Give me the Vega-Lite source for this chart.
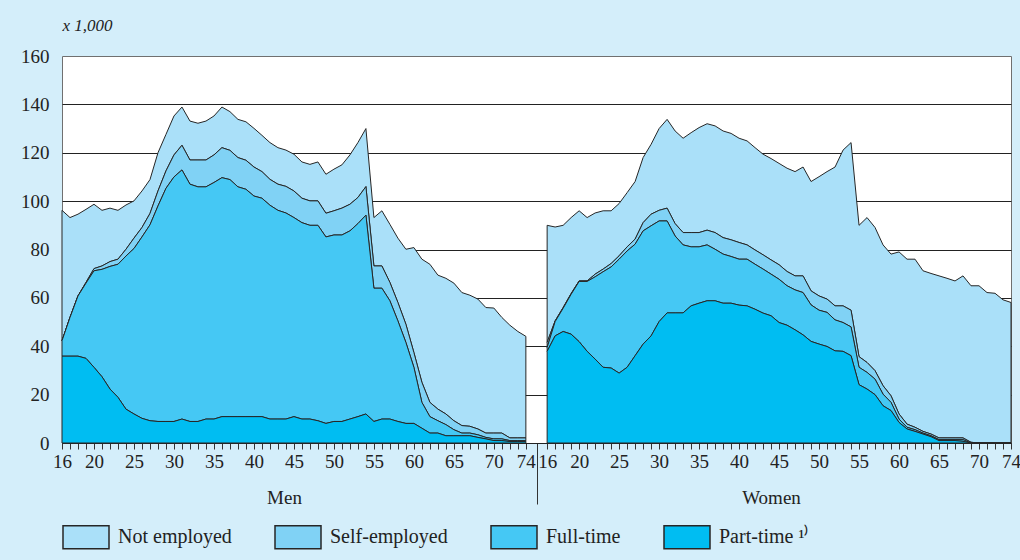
{
"$schema": "https://vega.github.io/schema/vega-lite/v6.json",
"width": 949, "height": 387,
"autosize": {"type": "none"},
"padding": {"left": 62, "top": 56, "right": 9, "bottom": 117},
"background": "#d4eefa",
"config": {
  "view": {"fill": "white", "stroke": "#707070", "strokeWidth": 1},
  "font": "Liberation Serif",
  "axis": {"labelFont": "Liberation Serif", "titleFont": "Liberation Serif", "labelColor": "#222", "titleColor": "#222"},
  "legend": {"labelFont": "Liberation Serif"}
},
"data": {"values": [
{"sex":"Men","age":16,"Part-time":35.9,"Full-time":6.4,"Self-employed":0,"Not employed":53.9},
{"sex":"Men","age":17,"Part-time":35.9,"Full-time":16.0,"Self-employed":0,"Not employed":41.3},
{"sex":"Men","age":18,"Part-time":35.9,"Full-time":24.9,"Self-employed":0,"Not employed":33.8},
{"sex":"Men","age":19,"Part-time":35.0,"Full-time":31.1,"Self-employed":0.3,"Not employed":30.2},
{"sex":"Men","age":20,"Part-time":31.3,"Full-time":39.9,"Self-employed":0.9,"Not employed":26.6},
{"sex":"Men","age":21,"Part-time":27.4,"Full-time":44.4,"Self-employed":1.4,"Not employed":23.0},
{"sex":"Men","age":22,"Part-time":22.3,"Full-time":50.7,"Self-employed":2.0,"Not employed":22.1},
{"sex":"Men","age":23,"Part-time":18.9,"Full-time":55.0,"Self-employed":2.1,"Not employed":20.2},
{"sex":"Men","age":24,"Part-time":14.0,"Full-time":63.3,"Self-employed":2.8,"Not employed":18.3},
{"sex":"Men","age":25,"Part-time":12.0,"Full-time":68.4,"Self-employed":4.3,"Not employed":15.4},
{"sex":"Men","age":26,"Part-time":10.2,"Full-time":75.0,"Self-employed":3.9,"Not employed":15.1},
{"sex":"Men","age":27,"Part-time":9.2,"Full-time":81.0,"Self-employed":4.7,"Not employed":14.0},
{"sex":"Men","age":28,"Part-time":8.9,"Full-time":89.1,"Self-employed":6.2,"Not employed":15.8},
{"sex":"Men","age":29,"Part-time":8.9,"Full-time":96.4,"Self-employed":7.2,"Not employed":15.1},
{"sex":"Men","age":30,"Part-time":8.9,"Full-time":101.1,"Self-employed":9.1,"Not employed":16.1},
{"sex":"Men","age":31,"Part-time":9.9,"Full-time":103.0,"Self-employed":10.2,"Not employed":15.8},
{"sex":"Men","age":32,"Part-time":8.9,"Full-time":98.1,"Self-employed":10.0,"Not employed":16.1},
{"sex":"Men","age":33,"Part-time":8.9,"Full-time":97.0,"Self-employed":11.1,"Not employed":15.2},
{"sex":"Men","age":34,"Part-time":9.9,"Full-time":96.0,"Self-employed":11.1,"Not employed":16.1},
{"sex":"Men","age":35,"Part-time":9.9,"Full-time":97.8,"Self-employed":11.4,"Not employed":16.1},
{"sex":"Men","age":36,"Part-time":10.9,"Full-time":98.8,"Self-employed":12.4,"Not employed":16.8},
{"sex":"Men","age":37,"Part-time":10.9,"Full-time":98.0,"Self-employed":12.1,"Not employed":16.0},
{"sex":"Men","age":38,"Part-time":10.9,"Full-time":95.0,"Self-employed":12.1,"Not employed":15.8},
{"sex":"Men","age":39,"Part-time":10.9,"Full-time":94.0,"Self-employed":12.0,"Not employed":15.9},
{"sex":"Men","age":40,"Part-time":10.9,"Full-time":91.2,"Self-employed":12.0,"Not employed":16.0},
{"sex":"Men","age":41,"Part-time":10.9,"Full-time":90.3,"Self-employed":11.0,"Not employed":15.0},
{"sex":"Men","age":42,"Part-time":9.9,"Full-time":88.4,"Self-employed":10.7,"Not employed":15.2},
{"sex":"Men","age":43,"Part-time":9.9,"Full-time":86.3,"Self-employed":10.8,"Not employed":15.1},
{"sex":"Men","age":44,"Part-time":9.9,"Full-time":85.2,"Self-employed":11.0,"Not employed":15.0},
{"sex":"Men","age":45,"Part-time":10.9,"Full-time":82.3,"Self-employed":11.0,"Not employed":15.2},
{"sex":"Men","age":46,"Part-time":9.9,"Full-time":81.2,"Self-employed":10.1,"Not employed":15.0},
{"sex":"Men","age":47,"Part-time":9.9,"Full-time":80.1,"Self-employed":10.1,"Not employed":15.1},
{"sex":"Men","age":48,"Part-time":9.2,"Full-time":80.8,"Self-employed":10.1,"Not employed":16.1},
{"sex":"Men","age":49,"Part-time":8.1,"Full-time":77.1,"Self-employed":9.8,"Not employed":16.1},
{"sex":"Men","age":50,"Part-time":8.9,"Full-time":77.1,"Self-employed":10.0,"Not employed":17.2},
{"sex":"Men","age":51,"Part-time":8.9,"Full-time":77.1,"Self-employed":11.1,"Not employed":17.9},
{"sex":"Men","age":52,"Part-time":9.9,"Full-time":77.8,"Self-employed":11.0,"Not employed":20.4},
{"sex":"Men","age":53,"Part-time":10.9,"Full-time":79.8,"Self-employed":10.8,"Not employed":22.7},
{"sex":"Men","age":54,"Part-time":12.0,"Full-time":82.2,"Self-employed":11.8,"Not employed":24.0},
{"sex":"Men","age":55,"Part-time":8.9,"Full-time":55.1,"Self-employed":9.2,"Not employed":20.0},
{"sex":"Men","age":56,"Part-time":9.9,"Full-time":54.1,"Self-employed":9.2,"Not employed":22.8},
{"sex":"Men","age":57,"Part-time":9.9,"Full-time":48.9,"Self-employed":7.6,"Not employed":24.0},
{"sex":"Men","age":58,"Part-time":8.9,"Full-time":41.6,"Self-employed":7.6,"Not employed":26.6},
{"sex":"Men","age":59,"Part-time":8.1,"Full-time":33.5,"Self-employed":7.5,"Not employed":31.0},
{"sex":"Men","age":60,"Part-time":8.1,"Full-time":23.2,"Self-employed":6.1,"Not employed":43.4},
{"sex":"Men","age":61,"Part-time":6.1,"Full-time":10.7,"Self-employed":8.3,"Not employed":50.9},
{"sex":"Men","age":62,"Part-time":4.1,"Full-time":6.8,"Self-employed":5.9,"Not employed":57.1},
{"sex":"Men","age":63,"Part-time":4.1,"Full-time":5.1,"Self-employed":4.8,"Not employed":55.4},
{"sex":"Men","age":64,"Part-time":3.0,"Full-time":4.6,"Self-employed":4.4,"Not employed":56.1},
{"sex":"Men","age":65,"Part-time":3.0,"Full-time":2.5,"Self-employed":3.7,"Not employed":56.9},
{"sex":"Men","age":66,"Part-time":3.0,"Full-time":1.1,"Self-employed":3.1,"Not employed":55.0},
{"sex":"Men","age":67,"Part-time":3.0,"Full-time":1.1,"Self-employed":2.8,"Not employed":54.2},
{"sex":"Men","age":68,"Part-time":2.3,"Full-time":1.1,"Self-employed":2.4,"Not employed":53.7},
{"sex":"Men","age":69,"Part-time":1.7,"Full-time":0.6,"Self-employed":1.8,"Not employed":51.9},
{"sex":"Men","age":70,"Part-time":1.0,"Full-time":0.7,"Self-employed":2.4,"Not employed":51.7},
{"sex":"Men","age":71,"Part-time":1.0,"Full-time":0.7,"Self-employed":2.4,"Not employed":47.8},
{"sex":"Men","age":72,"Part-time":0.6,"Full-time":0.4,"Self-employed":1.1,"Not employed":46.6},
{"sex":"Men","age":73,"Part-time":0.6,"Full-time":0.4,"Self-employed":1.1,"Not employed":44.0},
{"sex":"Men","age":74,"Part-time":0.6,"Full-time":0.4,"Self-employed":1.1,"Not employed":42.0},
{"sex":"Women","age":16,"Part-time":37.9,"Full-time":1.6,"Self-employed":2.1,"Not employed":48.4},
{"sex":"Women","age":17,"Part-time":44.3,"Full-time":5.9,"Self-employed":0.3,"Not employed":38.8},
{"sex":"Women","age":18,"Part-time":46.1,"Full-time":9.6,"Self-employed":0.3,"Not employed":34.0},
{"sex":"Women","age":19,"Part-time":45.0,"Full-time":16.5,"Self-employed":0.3,"Not employed":31.4},
{"sex":"Women","age":20,"Part-time":41.9,"Full-time":24.9,"Self-employed":0.2,"Not employed":29.0},
{"sex":"Women","age":21,"Part-time":37.9,"Full-time":28.9,"Self-employed":0.2,"Not employed":26.2},
{"sex":"Women","age":22,"Part-time":34.7,"Full-time":34.0,"Self-employed":1.1,"Not employed":25.3},
{"sex":"Women","age":23,"Part-time":31.3,"Full-time":39.5,"Self-employed":1.1,"Not employed":24.1},
{"sex":"Women","age":24,"Part-time":31.0,"Full-time":41.8,"Self-employed":1.4,"Not employed":21.8},
{"sex":"Women","age":25,"Part-time":28.9,"Full-time":47.1,"Self-employed":1.4,"Not employed":21.6},
{"sex":"Women","age":26,"Part-time":31.3,"Full-time":48.1,"Self-employed":1.7,"Not employed":22.4},
{"sex":"Women","age":27,"Part-time":36.1,"Full-time":46.1,"Self-employed":2.1,"Not employed":23.8},
{"sex":"Women","age":28,"Part-time":40.9,"Full-time":46.8,"Self-employed":3.4,"Not employed":26.9},
{"sex":"Women","age":29,"Part-time":44.3,"Full-time":45.5,"Self-employed":4.8,"Not employed":28.9},
{"sex":"Women","age":30,"Part-time":50.2,"Full-time":41.6,"Self-employed":4.4,"Not employed":33.8},
{"sex":"Women","age":31,"Part-time":53.8,"Full-time":38.0,"Self-employed":5.3,"Not employed":36.7},
{"sex":"Women","age":32,"Part-time":53.8,"Full-time":31.8,"Self-employed":5.1,"Not employed":38.3},
{"sex":"Women","age":33,"Part-time":53.8,"Full-time":28.1,"Self-employed":5.1,"Not employed":39.0},
{"sex":"Women","age":34,"Part-time":56.7,"Full-time":24.4,"Self-employed":5.9,"Not employed":41.3},
{"sex":"Women","age":35,"Part-time":57.8,"Full-time":23.3,"Self-employed":5.9,"Not employed":43.4},
{"sex":"Women","age":36,"Part-time":58.8,"Full-time":23.1,"Self-employed":6.1,"Not employed":44.0},
{"sex":"Women","age":37,"Part-time":58.8,"Full-time":21.3,"Self-employed":6.9,"Not employed":44.1},
{"sex":"Women","age":38,"Part-time":57.8,"Full-time":20.3,"Self-employed":6.8,"Not employed":44.1},
{"sex":"Women","age":39,"Part-time":57.8,"Full-time":19.3,"Self-employed":6.9,"Not employed":44.0},
{"sex":"Women","age":40,"Part-time":57.0,"Full-time":19.0,"Self-employed":6.9,"Not employed":43.1},
{"sex":"Women","age":41,"Part-time":56.7,"Full-time":19.3,"Self-employed":5.9,"Not employed":43.0},
{"sex":"Women","age":42,"Part-time":55.3,"Full-time":18.6,"Self-employed":5.9,"Not employed":42.3},
{"sex":"Women","age":43,"Part-time":53.7,"Full-time":18.2,"Self-employed":5.9,"Not employed":41.6},
{"sex":"Women","age":44,"Part-time":52.6,"Full-time":17.2,"Self-employed":5.9,"Not employed":41.9},
{"sex":"Women","age":45,"Part-time":49.8,"Full-time":17.9,"Self-employed":6.0,"Not employed":41.9},
{"sex":"Women","age":46,"Part-time":48.7,"Full-time":16.3,"Self-employed":5.9,"Not employed":42.7},
{"sex":"Women","age":47,"Part-time":46.8,"Full-time":16.5,"Self-employed":5.8,"Not employed":43.1},
{"sex":"Women","age":48,"Part-time":44.7,"Full-time":17.5,"Self-employed":6.9,"Not employed":45.0},
{"sex":"Women","age":49,"Part-time":42.0,"Full-time":15.1,"Self-employed":5.8,"Not employed":45.2},
{"sex":"Women","age":50,"Part-time":40.9,"Full-time":14.0,"Self-employed":5.9,"Not employed":49.3},
{"sex":"Women","age":51,"Part-time":39.9,"Full-time":14.1,"Self-employed":5.5,"Not employed":52.7},
{"sex":"Women","age":52,"Part-time":38.1,"Full-time":12.8,"Self-employed":5.8,"Not employed":57.4},
{"sex":"Women","age":53,"Part-time":37.9,"Full-time":11.9,"Self-employed":6.9,"Not employed":64.4},
{"sex":"Women","age":54,"Part-time":36.1,"Full-time":11.9,"Self-employed":6.9,"Not employed":69.3},
{"sex":"Women","age":55,"Part-time":24.1,"Full-time":7.2,"Self-employed":4.4,"Not employed":54.3},
{"sex":"Women","age":56,"Part-time":22.3,"Full-time":6.9,"Self-employed":4.1,"Not employed":59.9},
{"sex":"Women","age":57,"Part-time":20.0,"Full-time":6.4,"Self-employed":3.5,"Not employed":59.2},
{"sex":"Women","age":58,"Part-time":15.4,"Full-time":4.8,"Self-employed":3.5,"Not employed":58.2},
{"sex":"Women","age":59,"Part-time":13.4,"Full-time":3.4,"Self-employed":2.7,"Not employed":58.6},
{"sex":"Women","age":60,"Part-time":8.5,"Full-time":1.4,"Self-employed":2.1,"Not employed":67.0},
{"sex":"Women","age":61,"Part-time":5.8,"Full-time":0.7,"Self-employed":1.3,"Not employed":68.2},
{"sex":"Women","age":62,"Part-time":4.8,"Full-time":0.7,"Self-employed":1.0,"Not employed":69.5},
{"sex":"Women","age":63,"Part-time":3.7,"Full-time":0.4,"Self-employed":0.7,"Not employed":66.4},
{"sex":"Women","age":64,"Part-time":2.6,"Full-time":0.4,"Self-employed":0.7,"Not employed":66.4},
{"sex":"Women","age":65,"Part-time":1.0,"Full-time":0.4,"Self-employed":0.7,"Not employed":67.0},
{"sex":"Women","age":66,"Part-time":1.0,"Full-time":0.4,"Self-employed":0.7,"Not employed":66.0},
{"sex":"Women","age":67,"Part-time":1.0,"Full-time":0.4,"Self-employed":0.7,"Not employed":64.9},
{"sex":"Women","age":68,"Part-time":0.7,"Full-time":0.7,"Self-employed":0.7,"Not employed":67.0},
{"sex":"Women","age":69,"Part-time":0,"Full-time":0,"Self-employed":0.3,"Not employed":64.7},
{"sex":"Women","age":70,"Part-time":0,"Full-time":0,"Self-employed":0,"Not employed":65.0},
{"sex":"Women","age":71,"Part-time":0,"Full-time":0,"Self-employed":0,"Not employed":62.2},
{"sex":"Women","age":72,"Part-time":0,"Full-time":0,"Self-employed":0,"Not employed":61.9},
{"sex":"Women","age":73,"Part-time":0,"Full-time":0,"Self-employed":0,"Not employed":59.2},
{"sex":"Women","age":74,"Part-time":0,"Full-time":0,"Self-employed":0,"Not employed":58.1}
]},
"transform": [
  {"fold": ["Not employed", "Self-employed", "Full-time", "Part-time"], "as": ["status", "v"]},
  {"calculate": "indexof(['Part-time', 'Full-time', 'Self-employed', 'Not employed'], datum.status)", "as": "stackRank"}
],
"layer": [
  {
    "transform": [{"filter": "datum.sex == 'Men'"}],
    "mark": {"type": "area", "stroke": "#262626", "strokeWidth": 1, "strokeJoin": "miter"},
    "encoding": {
      "x": {"field": "age", "type": "quantitative",
        "scale": {"domain": [16, 134.66], "nice": false, "zero": false},
        "axis": {"orient": "bottom", "values": [16,17,18,19,20,21,22,23,24,25,26,27,28,29,30,31,32,33,34,35,36,37,38,39,40,41,42,43,44,45,46,47,48,49,50,51,52,53,54,55,56,57,58,59,60,61,62,63,64,65,66,67,68,69,70,71,72,73,74,75.4],
          "labelExpr": "indexof([16,20,25,30,35,40,45,50,55,60,65,70,74], datum.value) >= 0 ? datum.label : ''",
          "labelOverlap": false, "labelFlush": false, "labelFontSize": 19, "labelPadding": 3,
          "tickSize": {"condition": {"test": "datum.value > 75", "value": 61}, "value": 6},
          "tickColor": "#333", "tickWidth": 1, "domainColor": "#222", "domainWidth": 1, "grid": false,
          "title": "Men", "titleX": 222, "titleY": 60, "titleAlign": "center", "titleAnchor": null, "titleBaseline": "alphabetic", "titleFontSize": 19, "titleFontWeight": "normal"}},
      "y": {"field": "v", "type": "quantitative", "stack": "zero",
        "scale": {"domain": [0, 160], "nice": false},
        "axis": {"values": [0,20,40,60,80,100,120,140,160], "domain": false, "ticks": false, "labelPadding": 13, "labelFontSize": 19,
          "grid": true, "gridColor": "#222", "gridWidth": 1,
          "gridOpacity": {"condition": {"test": "datum.value == 160 || datum.value == 0", "value": 0}, "value": 1},
          "title": "x 1,000", "titleAngle": 0, "titleFontStyle": "italic", "titleFontWeight": "normal", "titleFontSize": 17,
          "titleX": 0, "titleY": -26, "titleAlign": "left", "titleAnchor": null, "titleBaseline": "alphabetic"}},
      "order": {"field": "stackRank", "type": "quantitative", "sort": "ascending"},
      "color": {"field": "status", "type": "nominal",
        "scale": {"domain": ["Not employed", "Self-employed", "Full-time", "Part-time"], "range": ["#aae0f9", "#80d2f5", "#45c8f4", "#00bdf2"]},
        "legend": {"orient": "none", "legendX": 0, "legendY": 457, "direction": "horizontal", "title": null,
          "symbolType": "M-1,-0.5H1V0.5H-1Z", "symbolSize": 2116, "symbolStrokeColor": "#222", "symbolStrokeWidth": 1.5,
          "labelFontSize": 20, "labelColor": "#222", "labelOffset": 8, "columnPadding": 40,
          "labelExpr": "datum.label == 'Part-time' ? 'Part-time ¹⁾' : datum.label"}}
    }
  },
  {
    "transform": [{"filter": "datum.sex == 'Women'"}],
    "mark": {"type": "area", "stroke": "#262626", "strokeWidth": 1, "strokeJoin": "miter"},
    "encoding": {
      "x": {"field": "age", "type": "quantitative",
        "scale": {"domain": [-44.66, 74], "nice": false, "zero": false},
        "axis": {"orient": "bottom", "values": [16,17,18,19,20,21,22,23,24,25,26,27,28,29,30,31,32,33,34,35,36,37,38,39,40,41,42,43,44,45,46,47,48,49,50,51,52,53,54,55,56,57,58,59,60,61,62,63,64,65,66,67,68,69,70,71,72,73,74],
          "labelExpr": "indexof([16,20,25,30,35,40,45,50,55,60,65,70,74], datum.value) >= 0 ? datum.label : ''",
          "labelOverlap": false, "labelFlush": false, "labelFontSize": 19, "labelPadding": 3,
          "tickSize": 6, "tickColor": "#333", "tickWidth": 1, "domainColor": "#222", "domainWidth": 1, "grid": false,
          "title": "Women", "titleX": 709, "titleY": 60, "titleAlign": "center", "titleAnchor": null, "titleBaseline": "alphabetic", "titleFontSize": 19, "titleFontWeight": "normal"}},
      "y": {"field": "v", "type": "quantitative", "stack": "zero",
        "scale": {"domain": [0, 160], "nice": false},
        "axis": {"values": [0,20,40,60,80,100,120,140,160], "domain": false, "ticks": false, "labelPadding": 13, "labelFontSize": 19,
          "grid": true, "gridColor": "#222", "gridWidth": 1,
          "gridOpacity": {"condition": {"test": "datum.value == 160 || datum.value == 0", "value": 0}, "value": 1},
          "title": "x 1,000", "titleAngle": 0, "titleFontStyle": "italic", "titleFontWeight": "normal", "titleFontSize": 17,
          "titleX": 0, "titleY": -26, "titleAlign": "left", "titleAnchor": null, "titleBaseline": "alphabetic"}},
      "order": {"field": "stackRank", "type": "quantitative", "sort": "ascending"},
      "color": {"field": "status", "type": "nominal",
        "scale": {"domain": ["Not employed", "Self-employed", "Full-time", "Part-time"], "range": ["#aae0f9", "#80d2f5", "#45c8f4", "#00bdf2"]}}
    }
  }
],
"resolve": {"scale": {"x": "independent"}, "axis": {"x": "independent"}}
}
